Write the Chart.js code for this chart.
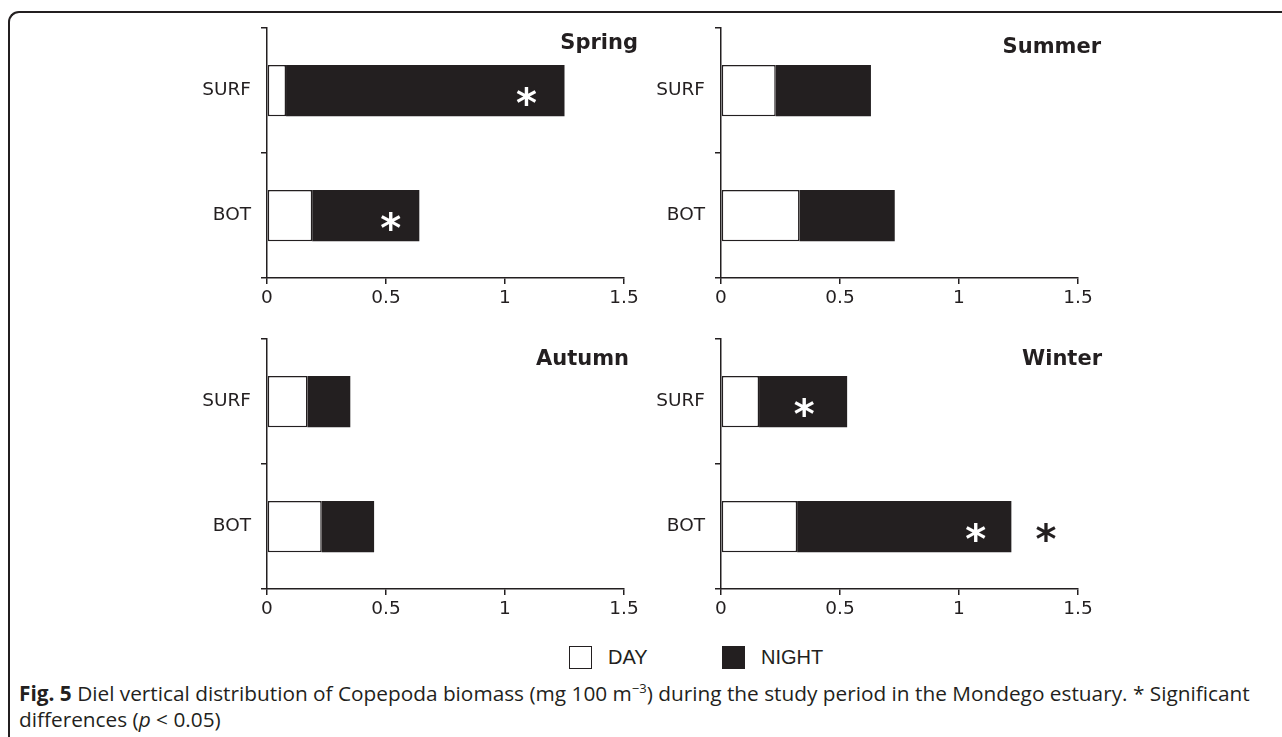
<!DOCTYPE html>
<html>
<head>
<meta charset="utf-8">
<script src="https://cdn.jsdelivr.net/npm/chart.js@4"></script>
<style>
  body { margin: 0; background: #fff; width: 1282px; height: 737px; overflow: hidden; position: relative; }
  .frame { position: absolute; left: 8px; top: 11px; width: 1400px; height: 900px;
           border-top: 2px solid #231f20; border-left: 2px solid #231f20; border-top-left-radius: 11px; }
  canvas { position: absolute; }
  .legend { position: absolute; top: 646px; font: 20px "Liberation Sans", Arial, sans-serif; color: #231f20; }
  .legend .box { position: absolute; top: 0; width: 21px; height: 21px; border: 1.5px solid #231f20; }
  .legend .label { position: absolute; top: 0; line-height: 23px; }
  .caption { position: absolute; left: 19px; top: 680px; font: 20.8px "Open Sans", sans-serif;
             color: #231f20; line-height: 26px; white-space: nowrap; }
</style>
</head>
<body>
<div class="frame"></div>
<canvas id="spring" width="470" height="313" style="left:180px;top:7px"></canvas>
<canvas id="summer" width="470" height="313" style="left:634px;top:7px"></canvas>
<canvas id="autumn" width="470" height="313" style="left:180px;top:318px"></canvas>
<canvas id="winter" width="470" height="313" style="left:634px;top:318px"></canvas>

<div class="legend">
  <div class="box" style="left:569px;background:#fff"></div>
  <div class="label" style="left:608px">DAY</div>
  <div class="box" style="left:722px;background:#231f20"></div>
  <div class="label" style="left:761px">NIGHT</div>
</div>

<div class="caption"><b>Fig. 5</b> Diel vertical distribution of Copepoda biomass (mg 100 m<sup style="font-size:13px;line-height:0">−3</sup>) during the study period in the Mondego estuary. * Significant<br>differences (<i>p</i> &lt; 0.05)</div>

<script>
const depths = ["SURF", "BOT"];
const xTicks = [0, 0.5, 1, 1.5];

const springDay = [0.08, 0.19];
const springNight = [1.17, 0.45];
const summerDay = [0.23, 0.33];
const summerNight = [0.40, 0.40];
const autumnDay = [0.17, 0.23];
const autumnNight = [0.18, 0.22];
const winterDay = [0.16, 0.32];
const winterNight = [0.37, 0.90];

// significance marks: [depth index, x value, colour]
const springStars = [[0, 1.09, "#fff"], [1, 0.52, "#fff"]];
const summerStars = [];
const autumnStars = [];
const winterStars = [[0, 0.35, "#fff"], [1, 1.07, "#fff"], [1, 1.365, "#231f20"]];

const ink = "#231f20";
const tickFont = { family: "DejaVu Sans", size: 18.5 };

const panelDecor = {
  id: "panelDecor",
  afterDatasetsDraw(chart, args, opts) {
    const { ctx, chartArea, scales } = chart;
    ctx.save();
    ctx.fillStyle = ink;
    ctx.font = "bold 21px 'DejaVu Sans'";
    ctx.textAlign = "right";
    ctx.textBaseline = "alphabetic";
    ctx.fillText(opts.title, chartArea.right + opts.dx, chartArea.top + opts.dy);

    ctx.font = "bold 40px 'DejaVu Sans'";
    ctx.textAlign = "center";
    opts.stars.forEach(([cat, v, color]) => {
      const x = scales.x.getPixelForValue(v);
      const y = scales.y.getPixelForValue(cat) + 3;
      ctx.fillStyle = color;
      ctx.fillText("*", x, y + 23);
    });
    ctx.restore();
  }
};

function makePanel(id, title, day, night, stars, dx, dy) {
  const ctx = document.getElementById(id).getContext("2d");
  new Chart(ctx, {
    type: "bar",
    data: {
      labels: depths,
      datasets: [
        { label: "DAY", data: day, backgroundColor: "#fff", borderColor: ink,
          borderWidth: 1.5, borderSkipped: false },
        { label: "NIGHT", data: night, backgroundColor: ink, borderColor: ink,
          borderWidth: 0 },
      ],
    },
    options: {
      indexAxis: "y",
      responsive: false,
      animation: false,
      devicePixelRatio: 1,
      barPercentage: 0.41,
      categoryPercentage: 1,
      layout: { padding: { top: 9, right: 26, left: 0, bottom: 0 } },
      plugins: {
        legend: { display: false },
        tooltip: { enabled: false },
        panelDecor: { title: title, stars: stars, dx: dx, dy: dy },
      },
      scales: {
        x: {
          stacked: true,
          min: 0,
          max: 1.5,
          afterBuildTicks: (scale) => { scale.ticks = xTicks.map((v) => ({ value: v })); },
          ticks: { font: tickFont, color: ink, padding: 3, callback: (v) => String(v) },
          grid: { drawOnChartArea: false, drawTicks: true, tickLength: 6, color: ink, lineWidth: 1.5 },
          border: { color: ink, width: 1.5 },
          afterFit: (scale) => { scale.height = 42; },
        },
        y: {
          stacked: true,
          offset: true,
          ticks: { font: tickFont, color: ink, padding: 10 },
          grid: { offset: true, drawOnChartArea: false, drawTicks: true, tickLength: 6, color: ink, lineWidth: 1.5 },
          border: { color: ink, width: 1.5 },
          afterFit: (scale) => { scale.width = 87; },
        },
      },
    },
    plugins: [panelDecor],
  });
}

makePanel("spring", "Spring", springDay, springNight, springStars, 14, 21);
makePanel("summer", "Summer", summerDay, summerNight, summerStars, 23, 25);
makePanel("autumn", "Autumn", autumnDay, autumnNight, autumnStars, 5, 26);
makePanel("winter", "Winter", winterDay, winterNight, winterStars, 24, 26);
</script>
</body>
</html>
